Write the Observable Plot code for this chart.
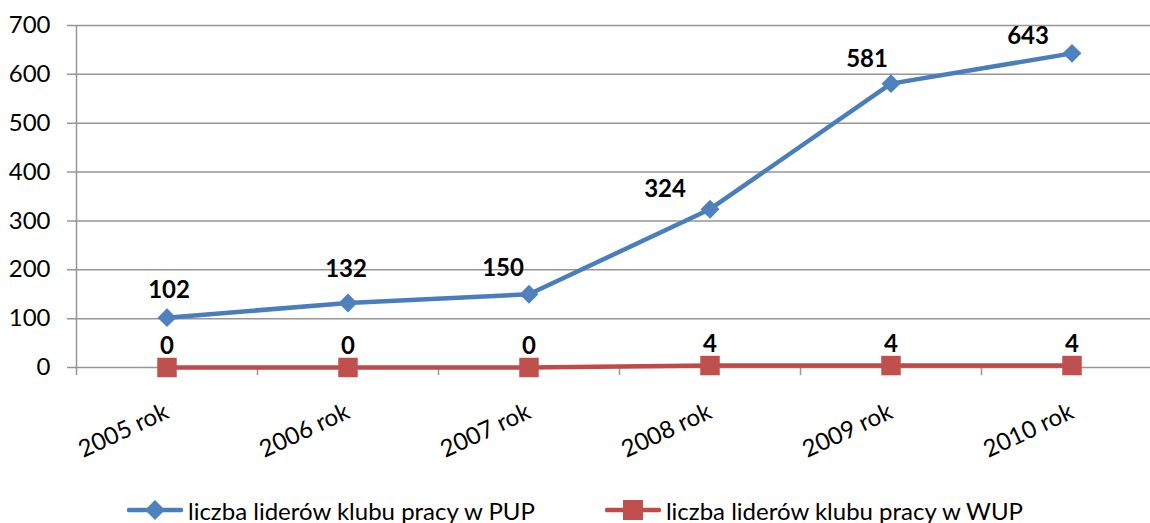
<!DOCTYPE html>
<html>
<head>
<meta charset="utf-8">
<script src="https://cdn.jsdelivr.net/npm/d3@7"></script>
<script src="https://cdn.jsdelivr.net/npm/@observablehq/plot@0.6"></script>
<style>
  html, body { margin: 0; padding: 0; background: #fff; }
  body { width: 1150px; height: 523px; overflow: hidden; position: relative; font-family: Lato, "Open Sans", sans-serif; }
  #legend { position: absolute; left: 0; top: 495px; width: 1150px; height: 30px; display: flex; justify-content: center; align-items: center; font-size: 24px; color: #000; }
  .item { display: flex; align-items: center; }
  .item svg { margin-right: 5px; }
</style>
</head>
<body>
<div id="chart"></div>
<div id="legend"></div>
<script>
// ---- data ----
const years = ["2005 rok", "2006 rok", "2007 rok", "2008 rok", "2009 rok", "2010 rok"];
const pupValues = [102, 132, 150, 324, 581, 643];
const wupValues = [0, 0, 0, 4, 4, 4];
const seriesNames = ["liczba liderów klubu pracy w PUP", "liczba liderów klubu pracy w WUP"];
const yTicks = [0, 100, 200, 300, 400, 500, 600, 700];

// ---- styling ----
const blue = "#4A7EBB", blueFill = "#4F81BD";
const red = "#BE4B48", redFill = "#C0504D";
const grid = "#969696";
const pupLabelOffsets = [[2, -27], [-2, -34], [-26, -26], [-45, -20], [-24, -24], [-44, -17]];

const idx = years.map((_, i) => i);
const pup = idx.map(i => ({i, v: pupValues[i]}));
const wup = idx.map(i => ({i, v: wupValues[i]}));
const bounds = idx.slice(0, -1).map(i => i + 0.5);

const chart = Plot.plot({
  width: 1150,
  height: 480,
  marginLeft: 67,
  marginRight: 0,
  marginTop: 25,
  marginBottom: 113,
  style: {fontFamily: "Lato, 'Open Sans', sans-serif", fontSize: "24px", color: "#000", background: "#fff"},
  x: {type: "linear", domain: [-0.5, 5.5], range: [76, 1162], axis: null},
  y: {domain: [0, 700], axis: null},
  marks: [
    Plot.ruleY(yTicks, {stroke: grid, strokeWidth: 1.5}),
    Plot.ruleX([-0.5], {y1: 700, y2: 0, insetBottom: -8, stroke: grid, strokeWidth: 1.5}),
    Plot.axisX({ticks: bounds, tickSize: 8, tickFormat: () => "", label: null, stroke: grid, strokeWidth: 1.5}),
    Plot.axisY({ticks: yTicks, tickSize: 0, tickPadding: 17, label: null, fontSize: 24, fill: "#000"}),
    Plot.text(years, {x: (d, i) => i, y: 0, text: d => d, rotate: -25, textAnchor: "end", lineAnchor: "middle", dx: 0, dy: 43, fontSize: 24, fill: "#000"}),
    Plot.line(pup, {x: "i", y: "v", stroke: blue, strokeWidth: 4.5}),
    Plot.line(wup, {x: "i", y: "v", stroke: red, strokeWidth: 4.5}),
    Plot.dot(pup, {x: "i", y: "v", symbol: "diamond2", r: 8.5, fill: blueFill, stroke: null}),
    Plot.dot(wup, {x: "i", y: "v", symbol: "square", r: 11, fill: redFill, stroke: null}),
    ...pup.map((d, k) => Plot.text([d], {x: "i", y: "v", text: d => String(d.v), dx: pupLabelOffsets[k][0], dy: pupLabelOffsets[k][1], fontSize: 24, fontWeight: "bold", fill: "#000"})),
    Plot.text(wup, {x: "i", y: "v", text: d => String(d.v), dy: -21, fontSize: 24, fontWeight: "bold", fill: "#000"})
  ]
});
document.getElementById("chart").appendChild(chart);

// ---- legend ----
const legend = document.getElementById("legend");
const items = [
  {name: seriesNames[0], stroke: blue, fill: blueFill, shape: "diamond"},
  {name: seriesNames[1], stroke: red, fill: redFill, shape: "square"}
];
items.forEach((it, k) => {
  const el = document.createElement("div");
  el.className = "item";
  if (k > 0) el.style.marginLeft = "70px";
  const marker = it.shape === "diamond"
    ? `<polygon points="28,0 38,10 28,20 18,10" fill="${it.fill}"/>`
    : `<rect x="18" y="0" width="20" height="20" fill="${it.fill}"/>`;
  el.innerHTML = `<svg width="56" height="20" viewBox="0 0 56 20"><line x1="2" y1="10" x2="54" y2="10" stroke="${it.stroke}" stroke-width="4.5" stroke-linecap="round"/>${marker}</svg><span>${it.name}</span>`;
  legend.appendChild(el);
});
</script>
</body>
</html>
